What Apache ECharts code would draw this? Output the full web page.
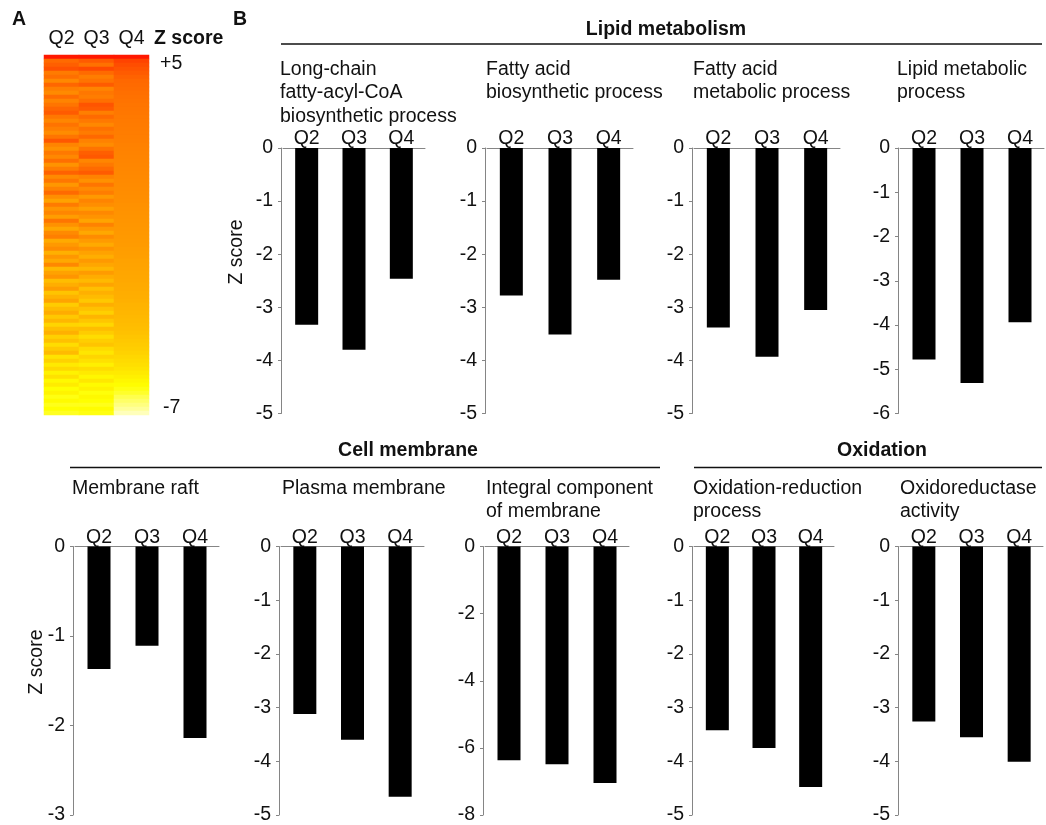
<!DOCTYPE html>
<html>
<head>
<meta charset="utf-8">
<script src="https://cdn.jsdelivr.net/npm/echarts@6/dist/echarts.min.js"></script>
<style>
  html, body { margin: 0; padding: 0; background: #fff; }
  #chart { width: 1046px; height: 825px; }
</style>
</head>
<body>
<div id="chart"></div>
<script>
// --- data ---
const quarters = ['Q2', 'Q3', 'Q4'];

// panel A: z scores per row (top to bottom)
const heatQ2 = [
  4.8, 2.4, 2.8, 3.2, 1.6, 2.2, 1.0, 2.6, 1.4, 0.9,
  2.3, 1.2, 1.9, 2.6, 2.9, 1.8, 1.1, 2.0, 1.4, 0.8,
  1.9, 3.0, 1.2, 0.6, 1.7, 1.0, 2.2, 0.5, 1.5, 2.7,
  0.9, 1.8, 0.3, 1.3, 2.4, 0.7, -0.2, 1.6, 0.4, 1.1,
  0.0, 1.9, 0.6, -0.4, 0.9, 1.4, -0.6, 0.2, 0.8, -0.9,
  0.3, -0.5, 1.0, -1.2, -0.2, 0.4, -1.5, -0.8, 0.0, -1.8,
  -1.0, -0.3, -2.2, -1.4, -0.7, -2.0, -1.2, -2.6, -1.6, -0.9,
  -2.4, -1.7, -3.0, -2.1, -1.4, -3.3, -2.5, -3.6, -2.8, -4.0,
  -3.2, -4.3, -3.7, -4.6, -4.1, -4.8, -4.4, -4.9, -4.6, -5.0
];
const heatQ3 = [
  4.8, 2.9, 2.1, 3.4, 2.4, 1.5, 2.0, 2.9, 1.2, 1.8,
  1.5, 2.2, 3.1, 2.9, 1.4, 2.4, 1.7, 1.0, 2.1, 1.6,
  2.5, 1.3, 0.8, 2.0, 2.8, 3.0, 1.1, 1.7, 2.4, 2.9,
  1.3, 0.6, 1.9, 0.9, 1.5, 0.2, 1.2, 0.7, -0.1, 1.0,
  0.5, -0.3, 1.3, 0.3, -0.5, 0.8, 0.1, -0.6, 0.5, -0.2,
  -0.8, 0.2, -0.4, -1.1, 0.1, -0.7, -1.3, -0.3, -1.6, -0.9,
  -1.4, -2.0, -0.8, -1.7, -2.4, -1.1, -1.9, -2.7, -1.5, -2.2,
  -3.0, -2.3, -1.8, -2.9, -3.4, -2.6, -3.2, -3.9, -3.0, -3.6,
  -4.2, -3.5, -4.4, -4.0, -4.7, -4.3, -4.6, -4.9, -4.5, -4.8
];
const heatQ4 = [
  4.8, 3.6, 3.3, 3.1, 2.9, 2.7, 2.5, 2.4, 2.3, 2.2,
  2.1, 2.0, 1.9, 1.85, 1.8, 1.7, 1.65, 1.6, 1.55, 1.5,
  1.45, 1.4, 1.35, 1.3, 1.25, 1.2, 1.15, 1.1, 1.05, 1.0,
  0.95, 0.9, 0.85, 0.8, 0.75, 0.7, 0.65, 0.6, 0.55, 0.5,
  0.45, 0.4, 0.35, 0.3, 0.25, 0.2, 0.15, 0.1, 0.0, -0.05,
  -0.1, -0.2, -0.25, -0.3, -0.4, -0.45, -0.5, -0.6, -0.65, -0.75,
  -0.8, -0.9, -1.0, -1.05, -1.15, -1.25, -1.35, -1.45, -1.55, -1.7,
  -1.85, -2.0, -2.15, -2.3, -2.5, -2.7, -2.9, -3.1, -3.35, -3.6,
  -3.9, -4.2, -4.5, -4.8, -5.1, -5.5, -5.8, -6.1, -6.4, -6.8
];
const heatRange = ['+5', '-7'];

// panel B: z scores for Q2, Q3, Q4
const longChainFattyAcylCoA = [-3.33, -3.80, -2.46];
const fattyAcidBiosynthetic = [-2.78, -3.51, -2.48];
const fattyAcidMetabolic = [-3.38, -3.93, -3.05];
const lipidMetabolic = [-4.78, -5.31, -3.94];
const membraneRaft = [-1.37, -1.11, -2.14];
const plasmaMembrane = [-3.12, -3.60, -4.66];
const integralComponent = [-6.37, -6.49, -7.05];
const oxidationReduction = [-3.42, -3.75, -4.48];
const oxidoreductase = [-3.26, -3.55, -4.01];

// --- layout ---
const FONT = '"Liberation Sans", Arial, sans-serif';
const FS = 19.5;
const TXT = '#111';
const AXIS = '#858585';

const ROWS = [
  { top: 148, height: 265.5, titleY: 69.5 },
  { top: 546.5, height: 270.5, titleY: 488.5 }
];

const panels = [
  { title: 'Long-chain\nfatty-acyl-CoA\nbiosynthetic process', data: longChainFattyAcylCoA, min: -5, step: 1, ax: 281, right: 425, row: 0, tx: 280 },
  { title: 'Fatty acid\nbiosynthetic process', data: fattyAcidBiosynthetic, min: -5, step: 1, ax: 485, right: 633, row: 0, tx: 486 },
  { title: 'Fatty acid\nmetabolic process', data: fattyAcidMetabolic, min: -5, step: 1, ax: 692, right: 840, row: 0, tx: 693 },
  { title: 'Lipid metabolic\nprocess', data: lipidMetabolic, min: -6, step: 1, ax: 898, right: 1044, row: 0, tx: 897 },
  { title: 'Membrane raft', data: membraneRaft, min: -3, step: 1, ax: 73, right: 219, row: 1, tx: 72 },
  { title: 'Plasma membrane', data: plasmaMembrane, min: -5, step: 1, ax: 279, right: 424, row: 1, tx: 282 },
  { title: 'Integral component\nof membrane', data: integralComponent, min: -8, step: 2, ax: 483, right: 629, row: 1, tx: 486 },
  { title: 'Oxidation-reduction\nprocess', data: oxidationReduction, min: -5, step: 1, ax: 692, right: 834, row: 1, tx: 693 },
  { title: 'Oxidoreductase\nactivity', data: oxidoreductase, min: -5, step: 1, ax: 898, right: 1043, row: 1, tx: 900 }
];

const chart = echarts.init(document.getElementById('chart'), null, { renderer: 'canvas' });

// heatmap cells
const heatCols = [heatQ2, heatQ3, heatQ4];
const rowIds = heatQ4.map((_, i) => String(i));
const heatData = [];
heatCols.forEach((col, c) => {
  col.forEach((v, r) => heatData.push([c, r, v]));
});

// 90 rows x 4px so the stripes sit on whole pixels (no seams)
const grids = [{ left: 44, top: 55, width: 105, height: 360 }];
const xAxes = [{
  type: 'category', gridIndex: 0, data: quarters, position: 'top',
  axisLine: { show: false }, axisTick: { show: false },
  axisLabel: { color: TXT, fontSize: FS, fontFamily: FONT, margin: 6 }
}];
const yAxes = [{ type: 'category', gridIndex: 0, data: rowIds, inverse: true, show: false }];
const series = [{
  type: 'heatmap', xAxisIndex: 0, yAxisIndex: 0, data: heatData,
  itemStyle: { borderWidth: 0 }, silent: true, progressive: 0
}];

panels.forEach((p, i) => {
  const g = i + 1;
  const row = ROWS[p.row];
  grids.push({ left: p.ax + 2, top: row.top, width: p.right - p.ax - 2, height: row.height });
  xAxes.push({
    type: 'category', gridIndex: g, data: quarters, position: 'top',
    axisLine: { show: true, onZero: false, lineStyle: { color: AXIS, width: 1 } },
    axisTick: { show: false },
    axisLabel: { color: TXT, fontSize: FS, fontFamily: FONT, margin: -1 }
  });
  yAxes.push({
    type: 'value', gridIndex: g, min: p.min, max: 0, interval: p.step, offset: 2,
    axisLine: { show: true, lineStyle: { color: AXIS, width: 1 } },
    axisTick: { show: true, length: 3, lineStyle: { color: AXIS } },
    axisLabel: { color: TXT, fontSize: FS, fontFamily: FONT, margin: 8 },
    splitLine: { show: false }
  });
  series.push({
    type: 'bar', xAxisIndex: g, yAxisIndex: g, data: p.data,
    barWidth: 23, itemStyle: { color: '#000' }, silent: true
  });
});

// --- text and header rules ---
const text = (str, x, y, opts = {}) => ({
  type: 'text', x, y, rotation: opts.rotation || 0,
  style: {
    text: str,
    font: (opts.bold ? 'bold ' : '') + FS + 'px ' + FONT,
    fill: TXT,
    align: opts.align || 'left',
    verticalAlign: opts.valign || 'middle',
    lineHeight: 23.5
  }
});
const rule = (x1, x2, y) => ({
  type: 'line', shape: { x1, y1: y, x2, y2: y }, style: { stroke: '#111', lineWidth: 1.6 }
});

const graphics = [
  text('A', 12, 20, { bold: true }),
  text('B', 233, 20, { bold: true }),
  text('Z score', 154, 39, { bold: true }),
  text(heatRange[0], 160, 64),
  text(heatRange[1], 163, 408),
  text('Lipid metabolism', 666, 30, { bold: true, align: 'center' }),
  rule(281, 1042, 44),
  text('Cell membrane', 408, 451, { bold: true, align: 'center' }),
  rule(70, 660, 467.5),
  text('Oxidation', 882, 451, { bold: true, align: 'center' }),
  rule(694, 1042, 467.5),
  text('Z score', 237, 252, { align: 'center', rotation: Math.PI / 2 }),
  text('Z score', 37, 662, { align: 'center', rotation: Math.PI / 2 })
];
panels.forEach(p => {
  graphics.push(text(p.title, p.tx, ROWS[p.row].titleY - 11.75, { valign: 'top' }));
});

chart.setOption({
  animation: false,
  backgroundColor: '#fff',
  grid: grids,
  xAxis: xAxes,
  yAxis: yAxes,
  visualMap: {
    show: false, seriesIndex: 0, min: -7, max: 5,
    inRange: { color: ['#ffffcc', '#ffff00', '#ffcc00', '#ff9900', '#ff6600', '#ff1100'] }
  },
  series,
  graphic: { elements: graphics }
});
</script>
</body>
</html>
